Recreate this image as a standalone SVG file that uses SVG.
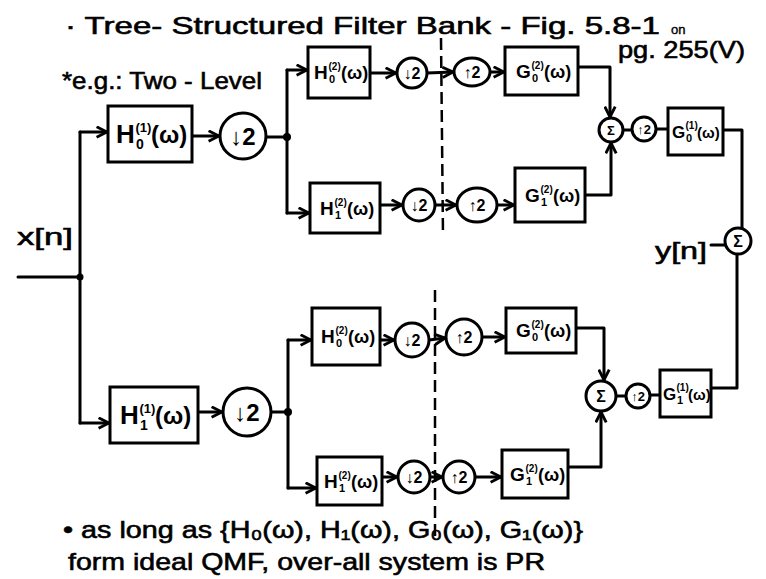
<svg xmlns="http://www.w3.org/2000/svg" width="766" height="579" viewBox="0 0 766 579">
<defs>
<style>
.bx{fill:#fff;stroke:#000;stroke-width:3}
.cr{fill:#fff;stroke:#000;stroke-width:3}
.ln{fill:none;stroke:#000;stroke-width:3;stroke-linecap:round;stroke-linejoin:round}
.ar{marker-end:url(#arr)}
.dash{fill:none;stroke:#000;stroke-width:2.5;stroke-dasharray:12 6}
.dot{fill:#000}
text{font-family:"Liberation Sans","DejaVu Sans",sans-serif;fill:#000}
.nt{font-size:24px;stroke:#000;stroke-width:0.6}
.lb{font-size:26px;font-weight:bold}
.lbs{font-size:19px;font-weight:bold}
.lbt{font-size:17px;font-weight:bold}
.sup{font-size:13px}
.sub{font-size:14px}
.om{font-size:24px}
.sup2{font-size:10px}
.sub2{font-size:11px}
.om2{font-size:18px}
.om3{font-size:15px}
.c1{font-size:24px;font-weight:bold;text-anchor:middle}
.c2{font-size:16px;font-weight:bold;text-anchor:middle}
.c3{font-size:13px;font-weight:bold;text-anchor:middle}
</style>
<marker id="arr" viewBox="0 0 10 10" refX="9" refY="5" markerWidth="13" markerHeight="13" markerUnits="userSpaceOnUse" orient="auto">
<path d="M1,1 L9,5 L1,9" fill="none" stroke="#000" stroke-width="2.2"/>
</marker>
</defs>
<rect width="766" height="579" fill="#fff"/>

<g id="notes">
<text class="nt" x="65" y="34" textLength="595" lengthAdjust="spacingAndGlyphs">· Tree- Structured Filter Bank - Fig. 5.8-1</text>
<text x="671" y="34" font-size="13" stroke="#000" stroke-width="0.4">on</text>
<text class="nt" x="618" y="58" font-size="22" textLength="127" lengthAdjust="spacingAndGlyphs">pg. 255(V)</text>
<text class="nt" x="62" y="89" font-size="22" textLength="200" lengthAdjust="spacingAndGlyphs">*e.g.: Two - Level</text>
<text class="nt" x="17" y="245" font-size="26" textLength="56" lengthAdjust="spacingAndGlyphs">x[n]</text>
<text class="nt" x="655" y="259" font-size="24" textLength="52" lengthAdjust="spacingAndGlyphs">y[n]</text>
<text class="nt" x="63" y="538" textLength="520" lengthAdjust="spacingAndGlyphs">• as long as {H₀(ω), H₁(ω), G₀(ω), G₁(ω)}</text>
<text class="nt" x="68" y="570" textLength="477" lengthAdjust="spacingAndGlyphs">form ideal QMF, over-all system is PR</text>
</g>

<g id="dashes">
<line class="dash" x1="441" y1="38" x2="443" y2="235"/>
<line class="dash" x1="435" y1="290" x2="435" y2="540"/>
</g>

<g id="connectors">
<line class="ln" x1="18" y1="277" x2="80" y2="277"/>
<line class="ln" x1="80" y1="132" x2="80" y2="423"/>
<circle class="dot" cx="80" cy="277" r="3.5"/>
<line class="ln ar" x1="80" y1="132" x2="107" y2="132"/>
<line class="ln ar" x1="80" y1="423" x2="109" y2="423"/>
<line class="ln ar" x1="192" y1="136" x2="219" y2="136"/>
<line class="ln" x1="266" y1="137" x2="287" y2="137"/>
<circle class="dot" cx="287" cy="137" r="4"/>
<line class="ln" x1="287" y1="70" x2="287" y2="213"/>
<line class="ln ar" x1="287" y1="70" x2="307" y2="70"/>
<line class="ln ar" x1="287" y1="213" x2="309" y2="213"/>
<line class="ln ar" x1="370" y1="73" x2="396" y2="73"/>
<line class="ln ar" x1="427" y1="73" x2="453" y2="72"/>
<line class="ln ar" x1="490" y1="72" x2="504" y2="72"/>
<polyline class="ln ar" points="578,67 610,67 610,117"/>
<line class="ln ar" x1="380" y1="205" x2="402" y2="205"/>
<line class="ln ar" x1="435" y1="205" x2="456" y2="205"/>
<line class="ln ar" x1="497" y1="205" x2="514" y2="205"/>
<polyline class="ln ar" points="585,195 611,195 611,143"/>
<line class="ln" x1="623" y1="130" x2="632" y2="130"/>
<line class="ln" x1="656" y1="129" x2="668" y2="129"/>
<polyline class="ln" points="723,130 742,130 742,228"/>
<line class="ln" x1="711" y1="245" x2="725" y2="245"/>
<polyline class="ln" points="737,254 737,388 711,388"/>
<line class="ln" x1="650" y1="395" x2="660" y2="395"/>
<line class="ln" x1="616" y1="396" x2="626" y2="396"/>
<line class="ln ar" x1="198" y1="412" x2="222" y2="412"/>
<line class="ln" x1="271" y1="412" x2="288" y2="412"/>
<circle class="dot" cx="288" cy="412" r="4"/>
<line class="ln" x1="288" y1="340" x2="288" y2="488"/>
<line class="ln ar" x1="288" y1="340" x2="311" y2="340"/>
<line class="ln ar" x1="288" y1="488" x2="316" y2="488"/>
<line class="ln ar" x1="380" y1="340" x2="394" y2="340"/>
<line class="ln ar" x1="429" y1="340" x2="445" y2="338"/>
<line class="ln ar" x1="482" y1="337" x2="505" y2="337"/>
<polyline class="ln ar" points="576,328 604,328 604,380"/>
<line class="ln ar" x1="382" y1="477" x2="397" y2="477"/>
<line class="ln ar" x1="430" y1="477" x2="442" y2="477"/>
<line class="ln ar" x1="475" y1="477" x2="501" y2="477"/>
<polyline class="ln ar" points="568,467 601,467 601,412"/>
</g>

<g id="H0_1">
<rect class="bx" x="108" y="106" width="84" height="56"/>
<text class="lb" x="116" y="143">H<tspan class="sup" x="135.5" y="132">(1)</tspan><tspan class="sub" x="136" y="149">0</tspan><tspan class="om" x="151" y="143">(ω)</tspan></text>
</g>
<g id="D1"><circle class="cr" cx="243" cy="136" r="23"/><text class="c1" x="243" y="145">↓2</text></g>

<g id="H1_1">
<rect class="bx" x="110" y="387" width="88" height="56"/>
<text class="lb" x="120" y="424">H<tspan class="sup" x="139.5" y="413">(1)</tspan><tspan class="sub" x="140" y="430">1</tspan><tspan class="om" x="155" y="424">(ω)</tspan></text>
</g>
<g id="D2"><circle class="cr" cx="247" cy="412" r="24"/><text class="c1" x="247" y="421">↓2</text></g>

<g id="H0_2a">
<rect class="bx" x="308" y="47" width="62" height="51"/>
<text class="lbs" x="314" y="79">H<tspan class="sup2" x="328.5" y="70">(2)</tspan><tspan class="sub2" x="329" y="83">0</tspan><tspan class="om2" x="341" y="79">(ω)</tspan></text>
</g>
<g id="Da"><circle class="cr" cx="412" cy="73" r="15"/><text class="c2" x="412" y="79">↓2</text></g>
<g id="Ua"><ellipse class="cr" cx="472" cy="72" rx="18" ry="14"/><text class="c2" x="472" y="78">↑2</text></g>
<g id="G0_2a">
<rect class="bx" x="505" y="47" width="73" height="48"/>
<text class="lbs" x="516" y="78">G<tspan class="sup2" x="531.5" y="69">(2)</tspan><tspan class="sub2" x="532" y="82">0</tspan><tspan class="om2" x="544" y="78">(ω)</tspan></text>
</g>

<g id="H1_2a">
<rect class="bx" x="310" y="183" width="70" height="50"/>
<text class="lbs" x="320" y="215">H<tspan class="sup2" x="334.5" y="206">(2)</tspan><tspan class="sub2" x="335" y="219">1</tspan><tspan class="om2" x="347" y="215">(ω)</tspan></text>
</g>
<g id="Db"><circle class="cr" cx="419" cy="205" r="16"/><text class="c2" x="419" y="211">↓2</text></g>
<g id="Ub"><ellipse class="cr" cx="477" cy="205" rx="20" ry="17"/><text class="c2" x="477" y="211">↑2</text></g>
<g id="G1_2a">
<rect class="bx" x="515" y="168" width="70" height="54"/>
<text class="lbs" x="525" y="202">G<tspan class="sup2" x="540.5" y="193">(2)</tspan><tspan class="sub2" x="541" y="206">1</tspan><tspan class="om2" x="553" y="202">(ω)</tspan></text>
</g>

<g id="S1"><circle class="cr" cx="611" cy="130" r="12"/><text class="c3" x="611" y="135">Σ</text></g>
<g id="U1"><circle class="cr" cx="644" cy="129" r="12"/><text class="c3" x="644" y="134">↑2</text></g>
<g id="G0_1">
<rect class="bx" x="668" y="108" width="55" height="47"/>
<text class="lbt" x="672" y="138">G<tspan class="sup2" x="685.5" y="129">(1)</tspan><tspan class="sub2" x="686" y="142">0</tspan><tspan class="om3" x="697" y="138">(ω)</tspan></text>
</g>

<g id="S_out"><circle class="cr" cx="738" cy="241" r="13"/><text class="c2" x="738" y="247">Σ</text></g>

<g id="H0_2b">
<rect class="bx" x="312" y="308" width="68" height="57"/>
<text class="lbs" x="321" y="343">H<tspan class="sup2" x="335.5" y="334">(2)</tspan><tspan class="sub2" x="336" y="347">0</tspan><tspan class="om2" x="348" y="343">(ω)</tspan></text>
</g>
<g id="Dc"><circle class="cr" cx="412" cy="340" r="17"/><text class="c2" x="412" y="346">↓2</text></g>
<g id="Uc"><circle class="cr" cx="464" cy="337" r="18"/><text class="c2" x="464" y="343">↑2</text></g>
<g id="G0_2b">
<rect class="bx" x="506" y="308" width="70" height="45"/>
<text class="lbs" x="516" y="337">G<tspan class="sup2" x="531.5" y="328">(2)</tspan><tspan class="sub2" x="532" y="341">0</tspan><tspan class="om2" x="544" y="337">(ω)</tspan></text>
</g>

<g id="H1_2b">
<rect class="bx" x="317" y="457" width="65" height="48"/>
<text class="lbs" x="324" y="488">H<tspan class="sup2" x="338.5" y="479">(2)</tspan><tspan class="sub2" x="339" y="492">1</tspan><tspan class="om2" x="351" y="488">(ω)</tspan></text>
</g>
<g id="Dd"><circle class="cr" cx="414" cy="477" r="16"/><text class="c2" x="414" y="483">↓2</text></g>
<g id="Ud"><circle class="cr" cx="459" cy="477" r="16"/><text class="c2" x="459" y="483">↑2</text></g>
<g id="G1_2b">
<rect class="bx" x="502" y="450" width="66" height="48"/>
<text class="lbs" x="510" y="481">G<tspan class="sup2" x="525.5" y="472">(2)</tspan><tspan class="sub2" x="526" y="485">1</tspan><tspan class="om2" x="538" y="481">(ω)</tspan></text>
</g>

<g id="S2"><circle class="cr" cx="601" cy="396" r="15"/><text class="c2" x="601" y="402">Σ</text></g>
<g id="U2"><circle class="cr" cx="638" cy="396" r="12"/><text class="c3" x="638" y="401">↑2</text></g>
<g id="G1_1">
<rect class="bx" x="660" y="370" width="51" height="47"/>
<text class="lbt" x="663" y="400">G<tspan class="sup2" x="676.5" y="391">(1)</tspan><tspan class="sub2" x="677" y="404">1</tspan><tspan class="om3" x="688" y="400">(ω)</tspan></text>
</g>
</svg>
